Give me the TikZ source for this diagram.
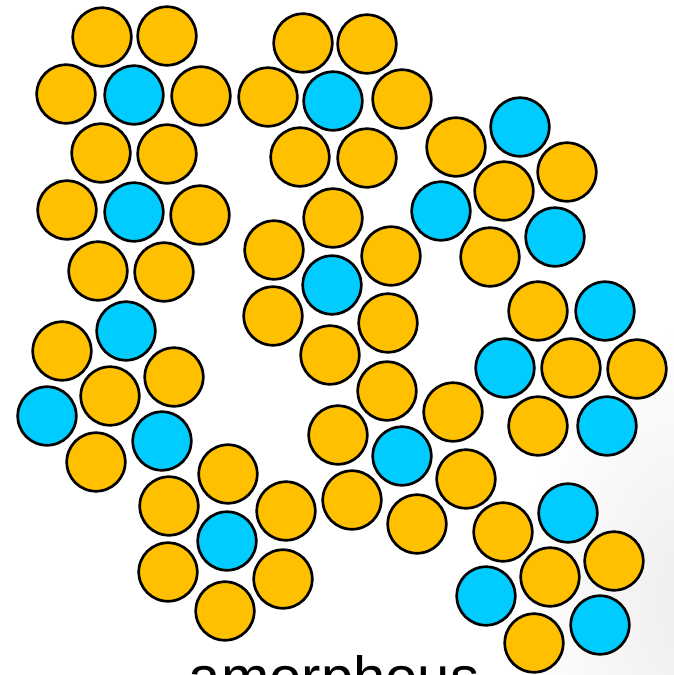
\documentclass[tikz,border=0pt]{standalone}
\usepackage{fontspec}
\setmainfont{Liberation Sans}
\usetikzlibrary{fadings}
\definecolor{ballorange}{RGB}{255,192,0}
\definecolor{ballblue}{RGB}{0,204,255}
\tikzfading[name=cornerfade, inner color=transparent!0, outer color=transparent!100]
\tikzset{
  ball/.style={circle, draw=black, line width=2.7pt, minimum size=58.5pt, inner sep=0pt},
  ob/.style={ball, fill=ballorange},
  bb/.style={ball, fill=ballblue},
  labeltext/.style={font=\fontsize{58}{60}\selectfont, text=black, inner sep=0pt, anchor=base}
}
\begin{document}
\begin{tikzpicture}[x=1pt,y=-1pt]
\clip (0,0) rectangle (674,675);
\fill[white] (0,0) rectangle (674,675);
\fill[gray!14, path fading=cornerfade] (520,330) rectangle (880,870);
% cluster 1
\node[ob] (a1) at (102,37) {};
\node[ob] (a2) at (167,36) {};
\node[ob] (a3) at (66,94) {};
\node[bb] (a4) at (134,95) {};
\node[ob] (a5) at (201,96) {};
\node[ob] (a6) at (101,153) {};
\node[ob] (a7) at (167,154) {};
\node[ob] (a8) at (67,210) {};
\node[bb] (a9) at (134,212) {};
\node[ob] (a10) at (200,215) {};
\node[ob] (a11) at (98,271) {};
\node[ob] (a12) at (164,272) {};
% cluster 2
\node[ob] (b1) at (303,43) {};
\node[ob] (b2) at (367,44) {};
\node[ob] (b3) at (268,97) {};
\node[bb] (b4) at (333,101) {};
\node[ob] (b5) at (402,99) {};
\node[ob] (b6) at (300,157) {};
\node[ob] (b7) at (367,158) {};
% cluster 3
\node[ob] (c1) at (333,218) {};
\node[ob] (c2) at (274,250) {};
\node[ob] (c3) at (391,256) {};
\node[bb] (c4) at (332,285) {};
\node[ob] (c5) at (273,316) {};
\node[ob] (c6) at (388,323) {};
\node[ob] (c7) at (330,355) {};
% cluster 4 (right top)
\node[bb] (d1) at (520,127) {};
\node[ob] (d2) at (456,147) {};
\node[ob] (d3) at (567,172) {};
\node[ob] (d4) at (504,191) {};
\node[bb] (d5) at (441,211) {};
\node[bb] (d6) at (555,237) {};
\node[ob] (d7) at (490,257) {};
% cluster 5 (right middle)
\node[ob] (e1) at (538,311) {};
\node[bb] (e2) at (605,311) {};
\node[bb] (e3) at (505,368) {};
\node[ob] (e4) at (571,368) {};
\node[ob] (e5) at (637,369) {};
\node[ob] (e6) at (538,426) {};
\node[bb] (e7) at (607,426) {};
% cluster 6 (left middle)
\node[bb] (f1) at (126,331) {};
\node[ob] (f2) at (62,351) {};
\node[ob] (f3) at (174,377) {};
\node[ob] (f4) at (110,396) {};
\node[bb] (f5) at (47,416) {};
\node[bb] (f6) at (162,441) {};
\node[ob] (f7) at (96,462) {};
% cluster 7 (center bottom)
\node[ob] (g1) at (387,391) {};
\node[ob] (g2) at (453,412) {};
\node[ob] (g3) at (338,435) {};
\node[bb] (g4) at (402,456) {};
\node[ob] (g5) at (466,479) {};
\node[ob] (g6) at (352,500) {};
\node[ob] (g7) at (417,524) {};
% cluster 8 (bottom left)
\node[ob] (h1) at (228,474) {};
\node[ob] (h2) at (169,506) {};
\node[ob] (h3) at (286,511) {};
\node[bb] (h4) at (227,541) {};
\node[ob] (h5) at (168,572) {};
\node[ob] (h6) at (283,579) {};
\node[ob] (h7) at (225,611) {};
% cluster 9 (bottom right)
\node[bb] (k1) at (568,513) {};
\node[ob] (k2) at (503,532) {};
\node[ob] (k3) at (614,561) {};
\node[ob] (k4) at (550,577) {};
\node[bb] (k5) at (486,596) {};
\node[bb] (k6) at (600,625) {};
\node[ob] (k7) at (534,643) {};
% label
\node[labeltext] (lbl) at (334,697) {amorphous};
\end{tikzpicture}
\end{document}
